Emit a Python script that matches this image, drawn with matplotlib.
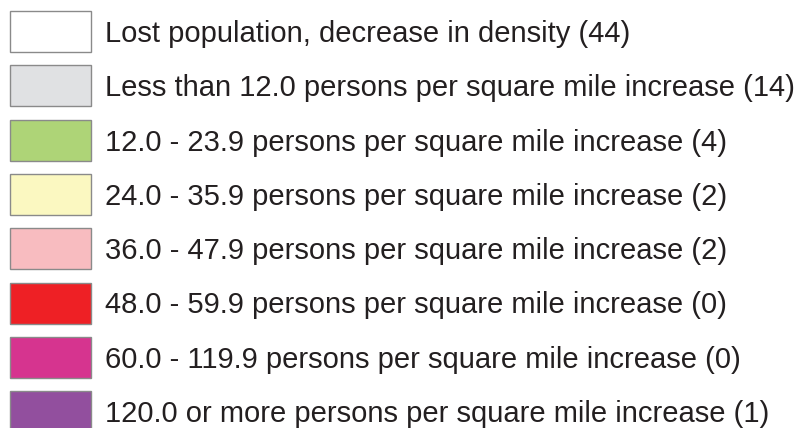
import matplotlib
matplotlib.use("Agg")
import matplotlib.pyplot as plt

labels = [
    "Lost population, decrease in density",
    "Less than 12.0 persons per square mile increase",
    "12.0 - 23.9 persons per square mile increase",
    "24.0 - 35.9 persons per square mile increase",
    "36.0 - 47.9 persons per square mile increase",
    "48.0 - 59.9 persons per square mile increase",
    "60.0 - 119.9 persons per square mile increase",
    "120.0 or more persons per square mile increase",
]
counts = [44, 14, 4, 2, 2, 0, 0, 1]
colors = ["#ffffff", "#e0e1e3", "#aed477", "#fbf8c1", "#f8bcc0", "#ee2025", "#d6348f", "#924f9e"]

W, H = 804, 428
fig = plt.figure(figsize=(W / 100, H / 100), dpi=100)
ax = fig.add_axes([0, 0, 1, 1])
ax.set_axis_off()
pitch = 54.3
top_center = 31.5
ax.set_xlim(0, W)
ax.set_ylim((H - top_center) / pitch, -top_center / pitch)

ys = list(range(len(labels)))
ax.barh(ys, [81] * len(ys), left=10, height=41 / pitch, color=colors,
        edgecolor="#8a8a8a", linewidth=1.0)
for y, lab, c in zip(ys, labels, counts):
    ax.text(105, y + 10.5 / pitch, f"{lab} ({c})", fontsize=21,
            family="Liberation Sans", color="#231f20", va="baseline", ha="left")

fig.savefig("out.png", dpi=100)
